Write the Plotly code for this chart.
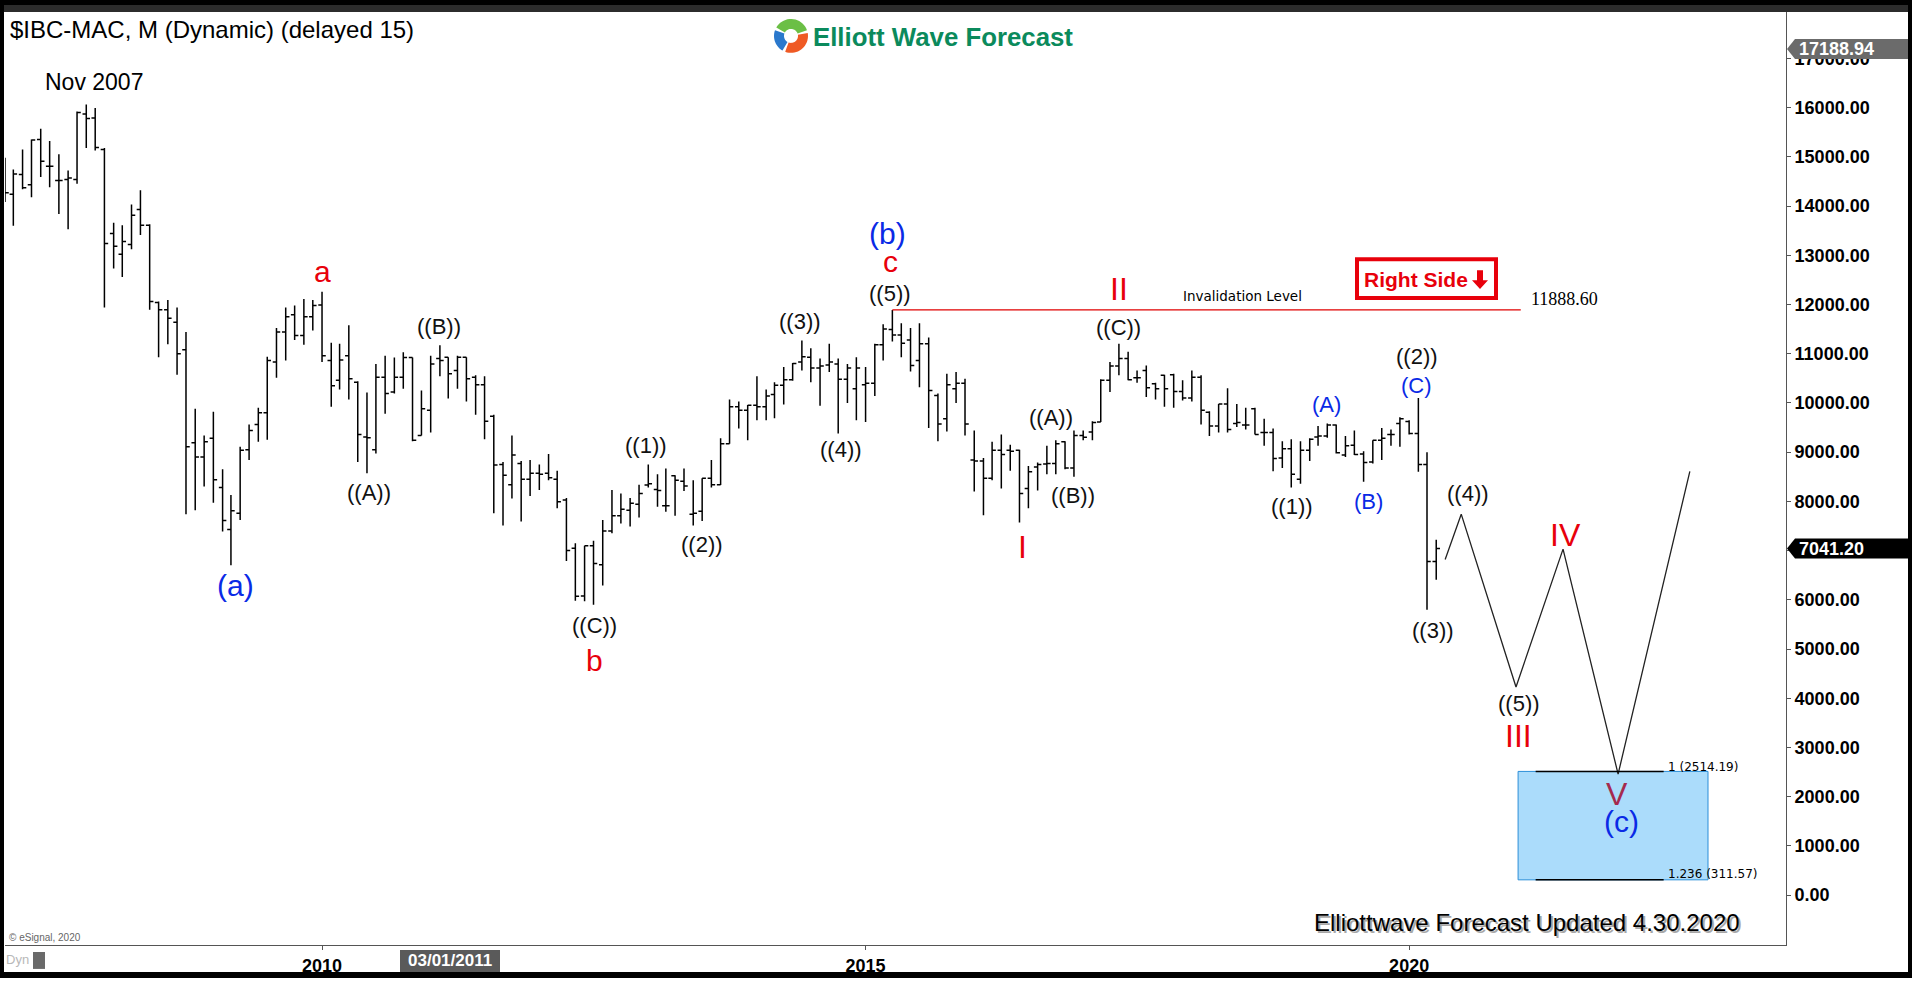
import numpy as np
import pandas as pd
import plotly.graph_objects as go

# ---------------- data ----------------
months = pd.date_range("2007-02-01", periods=159, freq="MS")

opens = [14340, 14240, 14640, 14430, 15350, 14810, 14520, 14540, 14540, 15870, 15790,
         15150, 13440, 13020, 13220, 13930, 13610, 12040, 11890, 11640, 11080, 9190, 8900,
         9280, 8280, 7430, 7760, 9050, 9560, 9800, 10830, 11440, 11790, 11370, 11750,
         11990, 10860, 10460, 10960, 10420, 9310, 9050, 10520, 10220, 10520, 10920, 9340,
         9850, 10900, 10930, 10660, 10930, 10520, 10370, 9730, 8750, 8340, 8770, 8450,
         8570, 8570, 8450, 8030, 7050, 6080, 7100, 6710, 7400, 7710, 7820, 7940,
         8330, 8240, 7910, 8520, 8410, 7740, 7800, 8470, 8340, 9170, 9920, 9850,
         9950, 9920, 10170, 10360, 10470, 10830, 10930, 10710, 10770, 10790, 10480, 10290,
         10370, 10400, 11180, 11490, 11380, 11280, 10860, 11200, 10150, 9680, 10290, 10400,
         8840, 8820, 8470, 9040, 9040, 9040, 8260, 8700, 8760, 8770, 9210, 8680,
         9340, 9410, 9610, 10460, 10750, 10900, 10510, 10660, 10390, 10560, 10570, 10230,
         10100, 10520, 9810, 9530, 9980, 9580, 9550, 9880, 9400, 9400, 8880, 9070,
         8450, 9040, 9310, 9330, 9550, 8940, 9140, 8960, 8800, 9240, 9360, 9580,
         9620, 9380, 8750, 6780]

highs = [14980, 14740, 15150, 15350, 15570, 15320, 15050, 14720, 15920, 16060, 15990,
         15180, 13660, 13610, 14030, 14320, 13630, 12060, 12090, 11940, 11440, 9880, 9340,
         9820, 8650, 8130, 9110, 9560, 9900, 10940, 11520, 11940, 11980, 12110, 12090,
         12260, 11220, 11200, 11580, 10440, 10210, 10790, 10960, 10920, 11030, 10920, 10250,
         10960, 11170, 10930, 10960, 10930, 10560, 10540, 9760, 8800, 9340, 8820, 8840,
         8750, 8960, 8620, 8070, 7150, 7100, 7200, 7620, 8230, 8160, 8070, 8340,
         8750, 8550, 8670, 8530, 8670, 8430, 8470, 8840, 9280, 10070, 10030, 9960,
         10540, 10270, 10420, 10730, 10810, 11270, 11110, 10900, 11200, 10900, 10790, 10930,
         10730, 11200, 11600, 11888.6, 11620, 11520, 11620, 11330, 10190, 10590, 10630, 10490,
         9440, 8880, 9210, 9360, 9150, 9050, 8720, 8790, 9130, 9240, 9220, 9440,
         9440, 9630, 10480, 10830, 11200, 11040, 10660, 10760, 10410, 10570, 10590, 10460,
         10660, 10560, 9830, 9980, 10300, 9980, 9900, 9900, 9680, 9480, 9220, 9260,
         9220, 9280, 9530, 9580, 9560, 9330, 9440, 9020, 9240, 9490, 9460, 9710,
         9650, 10100, 9000, 7220]

lows = [14080, 13600, 14340, 14180, 14590, 14380, 13840, 13530, 14450, 15180, 15130,
        11940, 12730, 12560, 13120, 13410, 11890, 10930, 11190, 10570, 7740, 7820, 8300,
        7970, 7390, 6700, 7620, 8840, 9210, 9250, 10510, 10860, 11280, 11180, 11470,
        10830, 9920, 10270, 10070, 8800, 8570, 8970, 9780, 10190, 10290, 9220, 9340,
        9400, 10540, 10090, 10290, 10030, 9760, 9260, 7760, 7510, 8060, 7590, 8110,
        8230, 8430, 7860, 6790, 5980, 5970, 5900, 6290, 7350, 7550, 7490, 7670,
        8280, 7890, 7790, 7710, 8210, 7510, 7600, 8280, 8330, 9170, 9480, 9240,
        9650, 9650, 9690, 9970, 10450, 10660, 10420, 9940, 10630, 9380, 10000, 9650,
        9610, 10140, 10860, 11250, 10930, 10640, 10320, 9490, 9220, 9420, 10000, 9340,
        8200, 7720, 8430, 8260, 8620, 7570, 7860, 8220, 8550, 8550, 8650, 8500,
        9240, 9240, 9610, 10220, 10560, 10460, 10410, 10120, 10070, 9920, 9900, 10050,
        10030, 9560, 9330, 9400, 9400, 9510, 9460, 9360, 9130, 8610, 8680, 8280,
        8360, 8820, 9130, 9290, 8970, 8900, 8940, 8400, 8770, 8840, 9130, 9110,
        9360, 8600, 5800, 6410]

closes = [14270, 14650, 14370, 15340, 14910, 14810, 14520, 14570, 15900, 15780, 15190,
          13240, 13180, 13280, 13810, 13610, 12060, 11890, 11720, 11000, 9110, 8900, 9210,
          8440, 7610, 7810, 9040, 9440, 9800, 10860, 11440, 11750, 11370, 11750, 11980,
          10960, 10350, 10870, 10490, 9360, 9290, 10520, 10190, 10520, 10920, 9240, 9880,
          10790, 10860, 10590, 10930, 10490, 10370, 9630, 8740, 8530, 8940, 8450, 8570,
          8550, 8480, 7990, 7000, 6070, 7100, 6740, 7400, 7710, 7840, 7960, 8160,
          8360, 8220, 7910, 8430, 8310, 7760, 8470, 8340, 9170, 9920, 9850, 9950,
          9920, 10140, 10360, 10470, 10800, 10940, 10710, 10750, 10830, 10480, 10710, 10710,
          10400, 11180, 11500, 11380, 11210, 10760, 11200, 10250, 9570, 10370, 10400, 9570,
          8820, 8470, 9040, 8950, 9020, 8160, 8600, 8750, 8770, 9170, 8680, 9340,
          9300, 9600, 10460, 10750, 10900, 10470, 10510, 10310, 10290, 10290, 10230, 10100,
          10520, 9850, 9530, 9980, 9460, 9600, 9550, 9360, 9400, 8870, 9070, 8550,
          9040, 9260, 9330, 9550, 8990, 9130, 8950, 8790, 9240, 9280, 9360, 9680,
          9380, 8750, 6780, 7041.2]

# projected path
proj_dates = ["2020-05-01", "2020-06-24", "2020-12-25", "2021-06-01", "2021-12-03", "2022-08-01"]
proj_prices = [6820, 7740, 4230, 7030, 2460, 8610]

invalidation_level = 11888.60
invalidation_start = "2015-04-01"
invalidation_end = "2021-01-10"

target_top = 2514.19
target_bottom = 311.57
target_x0, target_x1 = "2021-01-01", "2022-10-01"
target_line_x0, target_line_x1 = "2021-03-01", "2022-05-05"

last_price = 7041.20
top_price = 17188.94

year_ticks = ["2010-01-01", "2015-01-01", "2020-01-01"]
year_labels = ["2010", "2015", "2020"]
price_ticks = list(range(0, 18000, 1000))

RED = "#e8000b"
BLUE = "#0a2ae6"
BLACK = "#111111"
# wave labels: text, date, price, color, size
wave_labels = [
    ("a", "2010-01-01", 12660, RED, 30),
    ("(a)", "2009-03-15", 6290, BLUE, 30),
    ("((A))", "2010-06-07", 8180, BLACK, 22),
    ("((B))", "2011-01-30", 11560, BLACK, 22),
    ("((C))", "2012-07-05", 5470, BLACK, 22),
    ("b", "2012-07-05", 4760, RED, 30),
    ("((1))", "2012-12-25", 9130, BLACK, 22),
    ("((2))", "2013-07-01", 7130, BLACK, 22),
    ("((3))", "2014-05-26", 11660, BLACK, 22),
    ("((4))", "2014-10-09", 9050, BLACK, 22),
    ("((5))", "2015-03-25", 12230, BLACK, 22),
    ("c", "2015-03-25", 12880, RED, 30),
    ("(b)", "2015-03-15", 13450, BLUE, 30),
    ("II", "2017-05-01", 12310, RED, 32),
    ("((C))", "2017-05-01", 11540, BLACK, 22),
    ("((A))", "2016-09-16", 9700, BLACK, 22),
    ("((B))", "2016-11-28", 8120, BLACK, 22),
    ("I", "2016-06-10", 7070, RED, 32),
    ("((1))", "2018-12-04", 7900, BLACK, 22),
    ("(A)", "2019-03-31", 9960, BLUE, 22),
    ("(B)", "2019-08-18", 8000, BLUE, 22),
    ("((2))", "2020-01-26", 10940, BLACK, 22),
    ("(C)", "2020-01-26", 10350, BLUE, 22),
    ("((3))", "2020-03-21", 5370, BLACK, 22),
    ("((4))", "2020-07-16", 8160, BLACK, 22),
    ("((5))", "2021-01-04", 3890, BLACK, 22),
    ("III", "2021-01-01", 3240, RED, 32),
    ("IV", "2021-06-10", 7310, RED, 32),
    ("V", "2021-11-28", 2050, "#a52a4e", 32),
    ("(c)", "2021-12-13", 1500, BLUE, 30),
]

# ---------------- layout geometry (pixels) ----------------
W, H = 1912, 981
PL, PR, PT, PB = 5, 1786, 12, 948


def PX(x):
    return (x - PL) / (PR - PL)


def PY(y):
    return (PB - y) / (PB - PT)


SANS = "Liberation Sans, Arial, sans-serif"

fig = go.Figure()

fig.add_trace(go.Ohlc(
    x=months, open=opens, high=highs, low=lows, close=closes,
    increasing=dict(line=dict(color="black", width=1.5)),
    decreasing=dict(line=dict(color="black", width=1.5)),
    tickwidth=0.45, hoverinfo="skip", showlegend=False,
))

fig.add_trace(go.Scatter(
    x=proj_dates, y=proj_prices, mode="lines",
    line=dict(color="#222222", width=1.3), hoverinfo="skip", showlegend=False,
))

shapes = []
# invalidation line
shapes.append(dict(type="line", xref="x", yref="y", x0=invalidation_start, x1=invalidation_end,
                   y0=invalidation_level, y1=invalidation_level, line=dict(color="#e00000", width=1.2)))
# target box
shapes.append(dict(type="rect", xref="x", yref="y", x0=target_x0, x1=target_x1,
                   y0=target_bottom, y1=target_top, fillcolor="#abdcfb",
                   line=dict(color="#2b8ed8", width=1), layer="below"))
shapes.append(dict(type="line", xref="x", yref="y", x0=target_line_x0, x1=target_line_x1,
                   y0=target_top, y1=target_top, line=dict(color="black", width=1.5)))
shapes.append(dict(type="line", xref="x", yref="y", x0=target_line_x0, x1=target_line_x1,
                   y0=target_bottom, y1=target_bottom, line=dict(color="black", width=1.5)))


def prect(x0, y0, x1, y1, fill, line=None, layer="above"):
    d = dict(type="rect", xref="paper", yref="paper", x0=PX(x0), x1=PX(x1), y0=PY(y1), y1=PY(y0),
             fillcolor=fill, layer=layer, line=dict(width=0))
    if line:
        d["line"] = line
    return d


# outer frame
shapes.append(prect(0, 0, W, 5, "black"))
shapes.append(prect(0, 5, W, 12, "#2c2c2c"))
shapes.append(prect(0, 0, 4, H, "black"))
shapes.append(prect(1908, 0, W, H, "black"))
shapes.append(prect(0, 975, W, H, "black"))
# right-side box
shapes.append(prect(1357, 260, 1496, 299, "white", line=dict(color="#e8000b", width=4)))
# arrow in box
arrow = [(1477, 271), (1483, 271), (1483, 281), (1488, 281), (1480, 290), (1472, 281), (1477, 281)]
shapes.append(dict(type="path", xref="paper", yref="paper", layer="above",
                   path="M " + " L ".join(f"{PX(a)},{PY(b)}" for a, b in arrow) + " Z",
                   fillcolor="#e8000b", line=dict(width=0)))


# price tags on axis
def tag(price, color):
    half = 10 * 20.25
    xt, xb, xr = PX(1787), PX(1795), PX(1908)
    p = f"M {xt},{price} L {xb},{price + half} L {xr},{price + half} L {xr},{price - half} L {xb},{price - half} Z"
    return dict(type="path", xref="paper", yref="y", path=p, fillcolor=color, line=dict(width=0), layer="above")


shapes.append(tag(top_price, "#6b6b6b"))
shapes.append(tag(last_price, "black"))

# bottom label box
shapes.append(prect(400, 953, 500, 975, "#5a5a5a"))
shapes.append(prect(33, 955, 45, 972, "#6a6a6a"))


# logo icon arcs
def arc(cx, cy, r1, r2, a0, a1, color):
    pts = []
    for a in np.linspace(a0, a1, 20):
        pts.append((cx + r2 * np.cos(np.radians(a)), cy - r2 * np.sin(np.radians(a))))
    for a in np.linspace(a1, a0, 20):
        pts.append((cx + r1 * np.cos(np.radians(a)), cy - r1 * np.sin(np.radians(a))))
    path = "M " + " L ".join(f"{PX(x)},{PY(y)}" for x, y in pts) + " Z"
    return dict(type="path", xref="paper", yref="paper", path=path, fillcolor=color,
                line=dict(width=0), layer="above")


shapes.append(arc(791, 36, 7, 17, 20, 150, "#6bbf45"))
shapes.append(arc(791, 36, 7, 17, -110, 10, "#ef5a24"))
shapes.append(arc(791, 36, 7, 17, 160, 240, "#2a78cc"))

annotations = []
for text, d, p, col, sz in wave_labels:
    annotations.append(dict(x=d, y=p, xref="x", yref="y", text=text, showarrow=False,
                            font=dict(family=SANS, size=sz, color=col)))


def pann(x, y, text, size, color, xanchor="left", weight="normal", family=SANS):
    return dict(x=PX(x), y=PY(y), xref="paper", yref="paper", text=text, showarrow=False,
                xanchor=xanchor, yanchor="middle",
                font=dict(family=family, size=size, color=color, weight=weight))


annotations += [
    pann(8, 30, "$IBC-MAC, M (Dynamic) (delayed 15)", 24, "black"),
    pann(43, 82, "Nov 2007", 23, "black"),
    pann(811, 37, "Elliott Wave Forecast", 25.8, "#0b8a5c", weight="bold"),
    pann(1242, 297, "Invalidation Level", 13.5, "black", xanchor="center", family="DejaVu Sans, sans-serif"),
    pann(1529, 300, "11888.60", 18, "black", family="Liberation Serif, Times New Roman, serif"),
    pann(1416, 280, "Right Side", 21, "#e8000b", xanchor="center", weight="bold"),
    pann(1666, 769, "1 (2514.19)", 12, "black", family="DejaVu Sans, sans-serif"),
    pann(1666, 877, "1.236 (311.57)", 12, "black", family="DejaVu Sans, sans-serif"),
    pann(1529, 927, "Elliottwave Forecast Updated 4.30.2020", 24, "#a8a8a8", xanchor="center"),
    pann(1527, 925, "Elliottwave Forecast Updated 4.30.2020", 24, "black", xanchor="center"),
    pann(450, 964, "03/01/2011", 17, "white", xanchor="center", weight="bold"),
    pann(4, 963, "Dyn", 13, "#b8b8b8"),
    pann(7, 940, "© eSignal, 2020", 10, "#666666"),
]
annotations.append(dict(x=PX(1797), y=top_price, xref="paper", yref="y", text="17188.94", showarrow=False,
                        xanchor="left", yanchor="middle",
                        font=dict(family=SANS, size=18, color="white", weight="bold")))
annotations.append(dict(x=PX(1797), y=last_price, xref="paper", yref="y", text="7041.20", showarrow=False,
                        xanchor="left", yanchor="middle",
                        font=dict(family=SANS, size=18, color="white", weight="bold")))

fig.update_layout(
    width=W, height=H,
    margin=dict(l=PL, r=W - PR, t=PT, b=H - PB, pad=0),
    paper_bgcolor="white", plot_bgcolor="white",
    showlegend=False, hovermode=False,
    shapes=shapes, annotations=annotations,
    xaxis=dict(type="date", range=["2007-02-01", "2023-06-20"], rangeslider=dict(visible=False),
               tickvals=year_ticks, ticktext=year_labels, showgrid=False, zeroline=False,
               showline=True, linecolor="#555555", linewidth=1, ticks="outside", ticklen=4,
               tickcolor="#555555", tickfont=dict(family=SANS, size=18, color="black", weight="bold")),
    yaxis=dict(side="right", range=[-1012, 17941], tickvals=price_ticks, tickformat=".2f",
               showgrid=False, zeroline=False, showline=True, linecolor="#555555", linewidth=1,
               ticks="outside", ticklen=4, tickcolor="#555555",
               tickfont=dict(family=SANS, size=18, color="black", weight="bold")),
)

fig.write_html("out.html", include_plotlyjs=True, full_html=True,
               config={"displayModeBar": False, "staticPlot": True},
               post_script="document.body.style.margin='0';document.body.style.overflow='hidden';")
